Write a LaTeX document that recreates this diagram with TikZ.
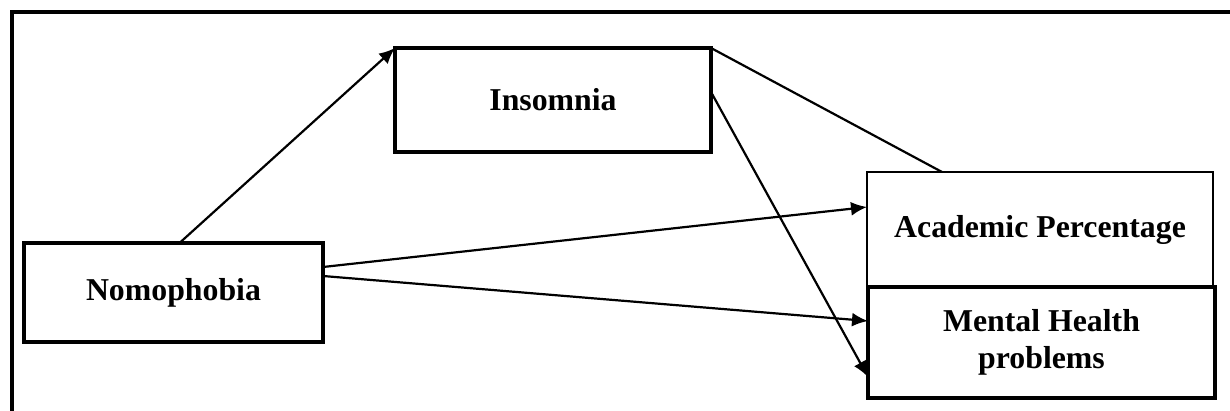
\documentclass[tikz,border=0pt]{standalone}
\usepackage{fontspec}
\setmainfont{Liberation Serif}
\usepackage{tikz}
\usetikzlibrary{arrows.meta}

\begin{document}
\begin{tikzpicture}[x=0.5pt,y=-0.5pt]

      \tikzstyle{every node}=[draw,rectangle,line width=2pt,inner sep=0pt,
                            outer sep=0pt,align=center,
                            font=\fontsize{15.9}{18.5}\selectfont\bfseries]
      \tikzstyle{link}=[line width=1.1pt,-{Latex[length=8pt,width=7pt]}]

      %\tikzstyle{every label}=[distance=5mm]

      \useasboundingbox (0,0) rectangle (1230,411);
      \draw[line width=2pt] (12,411) -- (12,12) -- (1230,12);

      \node (nomo) [minimum width=149.5pt,minimum height=49.5pt] at (173.5,292.5) {Nomophobia};
      \node (insom) [minimum width=158pt,minimum height=52pt] at (553,100) {Insomnia};
      \node (acad) [line width=1.1pt,minimum width=173pt,minimum height=57.5pt] at (1040,229.5) {Academic Percentage};
      \node (mental) [minimum width=173.5pt,minimum height=55.5pt] at (1041.5,342.5) {Mental Health\\problems};

      \draw[link] ([xshift=3pt]nomo.north) -- (insom.north west);
      \draw[link] ([yshift=12.75pt]nomo.east) -- ([yshift=11.25pt]acad.west);
      \draw[link] ([yshift=8.25pt]nomo.east) -- ([yshift=10.75pt]mental.west);
      \draw[link] ([yshift=4pt]insom.east) -- ([yshift=-17.25pt]mental.west);
      \draw[line width=1.1pt] (insom.north east) -- ([xshift=-49pt]acad.north);

    \end{tikzpicture}
\end{document}
